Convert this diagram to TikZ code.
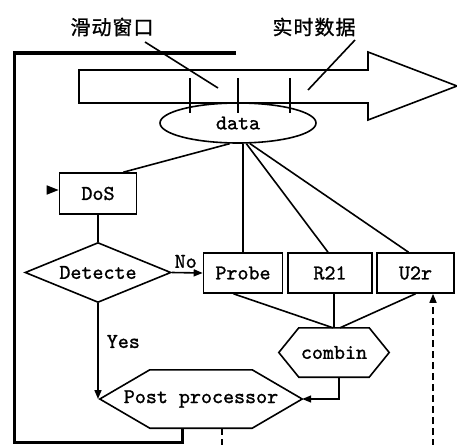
\documentclass[tikz,border=0pt]{standalone}
\usepackage{fontspec}
\newfontfamily\cjk{Noto Sans CJK SC}[FakeBold=1]
\newfontfamily\boxfont{lmmono10-regular.otf}[FakeBold=1.2]
\usetikzlibrary{shapes.geometric,arrows.meta}

\tikzset{
  every node/.style={font=\boxfont\fontsize{21}{24}\selectfont},
  conn/.style={line width=1.6pt},
  frame/.style={line width=3pt},
  tip/.style={-{Triangle[length=9pt,width=7pt]}},
  bigtip/.style={-{Triangle[length=12pt,width=9pt]}},
  stepbox/.style={draw, line width=1.6pt, rectangle, inner sep=0pt, fill=white},
  hexbox/.style={rectangle, draw=none, inner sep=0pt},
  decision/.style={draw, diamond, line width=1.6pt, inner sep=0pt, aspect=2.43},
  pool/.style={draw, ellipse, line width=1.6pt, inner sep=0pt, fill=white},
  cjklabel/.style={font=\cjk\fontsize{20}{22}\selectfont},
  smalllabel/.style={inner sep=0pt},
}

\begin{document}
\begin{tikzpicture}[x=1pt,y=-1pt]
\useasboundingbox (0,0) rectangle (457,444);

% data stream arrow
\draw[conn, line join=miter] (79,70) -- (368,70) -- (368,52) -- (457,86) -- (368,120) -- (368,103) -- (79,103) -- cycle;

% labels above the stream
\node[cjklabel] (lwin) at (112,27) {滑\hspace{1pt}动\hspace{1pt}窗\hspace{1pt}口};
\node[cjklabel] (lreal) at (314,27) {实\hspace{1pt}时\hspace{1pt}数\hspace{1pt}据};
\coordinate (pwin) at (218,88);
\coordinate (preal) at (308,90);
\coordinate (swin) at (145,42);
\coordinate (sreal) at (355,40);
\draw[conn] (swin) -- (pwin);
\draw[conn] (sreal) -- (preal);

% data pool
\node[pool, minimum width=156pt, minimum height=40pt] (data) at (238,123) {data};

% window ticks
\coordinate (t1) at (190,78);
\coordinate (t2) at (238,78);
\coordinate (t3) at (290,78);
\draw[conn] (t1) -- ++(0,35);
\draw[conn] (t2) -- ++(0,35);
\draw[conn] (t3) -- ++(0,35);

% detectors
\node[stepbox, minimum width=77pt, minimum height=41pt] (dos) at (98,193.5) {DoS\hspace{12pt}};
\node[decision, minimum width=146pt, minimum height=60pt] (detect) at (98,272.5) {Detecte};
\node[stepbox, minimum width=79pt, minimum height=40pt] (probe) at (243,273) {Probe};
\node[stepbox, minimum width=84pt, minimum height=40pt] (r21) at (330,273) {R21};
\node[stepbox, minimum width=77pt, minimum height=40pt] (u2r) at (415.5,273) {U2r};

% combiner and post processor (hexagons)
\node[hexbox, minimum width=110pt, minimum height=49pt] (combin) at (334,352.5) {combin};
\draw[conn] (combin.west) -- ([xshift=20pt]combin.north west) -- ([xshift=-20pt]combin.north east)
  -- (combin.east) -- ([xshift=-20pt]combin.south east) -- ([xshift=20pt]combin.south west) -- cycle;

\node[hexbox, minimum width=202pt, minimum height=58pt] (post) at (201,399) {Post processor};
\draw[conn] (post.west) -- ([xshift=50pt]post.north west) -- ([xshift=-50pt]post.north east)
  -- (post.east) -- ([xshift=-50pt]post.south east) -- ([xshift=50pt]post.south west) -- cycle;

% fan-out from the data pool
\draw[conn] (data.248) -- ([xshift=-14pt]dos.north east);
\draw[conn] (probe.north |- data.south) -- (probe.north);
\draw[conn] (data.292) -- ([xshift=-2pt]r21.north);
\draw[conn] (data.300) -- ([xshift=-7pt]u2r.north);

% flow through the detectors
\coordinate (dosin) at (47,190);
\draw[conn, bigtip] (dosin) -- (dos.west |- dosin);
\draw[conn] (dos.south) -- (detect.north);
\draw[conn, tip] (detect.east) -- (probe.west) node[smalllabel, pos=0.45, above=4pt] {No};
\draw[conn, tip] (detect.south) -- (detect.south |- post.west) node[smalllabel, pos=0.4, right=8pt] {Yes};

% fan-in to the combiner
\draw[conn] ([xshift=-9.5pt]probe.south) -- ([xshift=-1pt]combin.north);
\draw[conn] (r21.south -| combin.north) -- (combin.north);
\draw[conn] (u2r.south) -- ([xshift=6pt]combin.north);
\draw[conn, tip] ([xshift=5pt]combin.south) |- (post.east);

% feedback frame
\coordinate (fr) at (182,442);
\draw[frame] (236,53) -- (14,53) -- (14,442) -- (fr) -- (fr |- post.south);

% dashed links
\coordinate (pout) at (222,446);
\coordinate (uin) at (433,446);
\draw[conn, dashed, dash pattern=on 7pt off 4pt] (pout |- post.south) -- (pout);
\draw[conn, dashed, dash pattern=on 7pt off 4pt, tip] (uin) -- (uin |- u2r.south);
\end{tikzpicture}
\end{document}
